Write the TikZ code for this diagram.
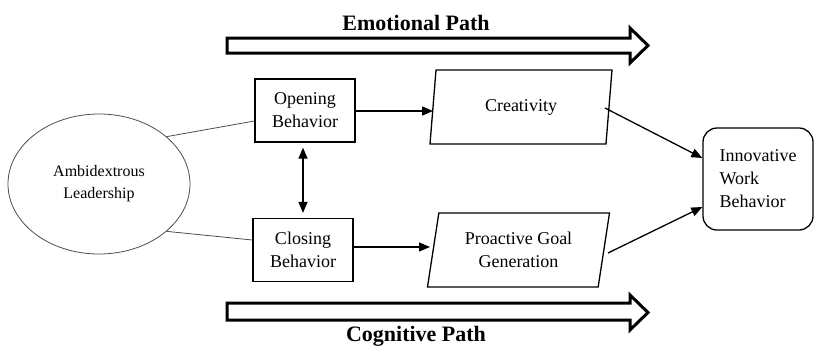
\documentclass[tikz,border=0pt]{standalone}
\usepackage{fontspec}
\setmainfont{Liberation Serif}
\usetikzlibrary{positioning,shapes.geometric,arrows.meta}

\tikzset{
  boxnode/.style={draw=black, line width=1.3pt, minimum width=100pt, minimum height=63pt,
    align=center, font=\fontsize{18}{23}\selectfont},
  slantnode/.style={draw=black, line width=1.3pt, trapezium, trapezium left angle=75,
    trapezium right angle=105, trapezium stretches body, minimum width=182pt,
    minimum height=74pt, align=center, font=\fontsize{18}{23}\selectfont},
  pathtitle/.style={font=\bfseries\fontsize{22}{26}\selectfont},
  flow/.style={->, >={Triangle[length=11pt,width=9pt]}, line width=1.3pt},
  link/.style={draw=black!70, line width=0.8pt},
  bigarrow/.style={draw=black, line width=3pt, line join=miter}
}

\begin{document}
\begin{tikzpicture}[x=1pt, y=-1pt]
    \useasboundingbox (0,0) rectangle (815,349);

    % path labels and hollow arrows
    \node[pathtitle] (emo) at (416,23) {Emotional Path};
    \draw[bigarrow] (227,38) -- (630,38) -- (630,28) -- (648,45.5)
        -- (630,63) -- (630,53) -- (227,53) -- cycle;
    \node[pathtitle] (cog) at (416,336) {Cognitive Path};
    \draw[bigarrow] (227,303) -- (630,303) -- (630,295) -- (648,312.5)
        -- (630,330) -- (630,320) -- (227,320) -- cycle;

    % nodes
    \node[draw=black!70, line width=0.8pt, ellipse, minimum width=182pt, minimum height=140pt,
        align=center, font=\fontsize{16}{22}\selectfont] (amb) at (99,184)
        {Ambidextrous\\Leadership};
    \node[boxnode] (open) at (305,110.5) {Opening\\Behavior};
    \node[boxnode] (close) at (303,250) {Closing\\Behavior};
    \node[slantnode] (creat) at (521,107) {Creativity};
    \node[slantnode] (goal) at (518.5,250) {Proactive Goal\\Generation};
    \node[draw=black, line width=1.3pt, rounded corners=14pt, minimum width=110pt,
        minimum height=102pt, align=left, font=\fontsize{18}{23}\selectfont] (iwb) at (758,179)
        {Innovative\\Work\\Behavior};

    % connectors
    \draw[link] (amb.35) -- (open.west |- 0,121);
    \draw[link] (amb.-35) -- (close.west |- 0,240);
    \draw[flow, <->] ([yshift=-5pt]open.south -| 303,0) -- ([yshift=5pt]close.north);
    \draw[flow] (open.east |- 0,111) -- (433,111);
    \draw[flow] (close.east |- 0,247) -- (430,247);
    \draw[flow] (605,108) -- (iwb.west |- 0,158);
    \draw[flow] (608,253) -- (iwb.west |- 0,207);
\end{tikzpicture}
\end{document}
